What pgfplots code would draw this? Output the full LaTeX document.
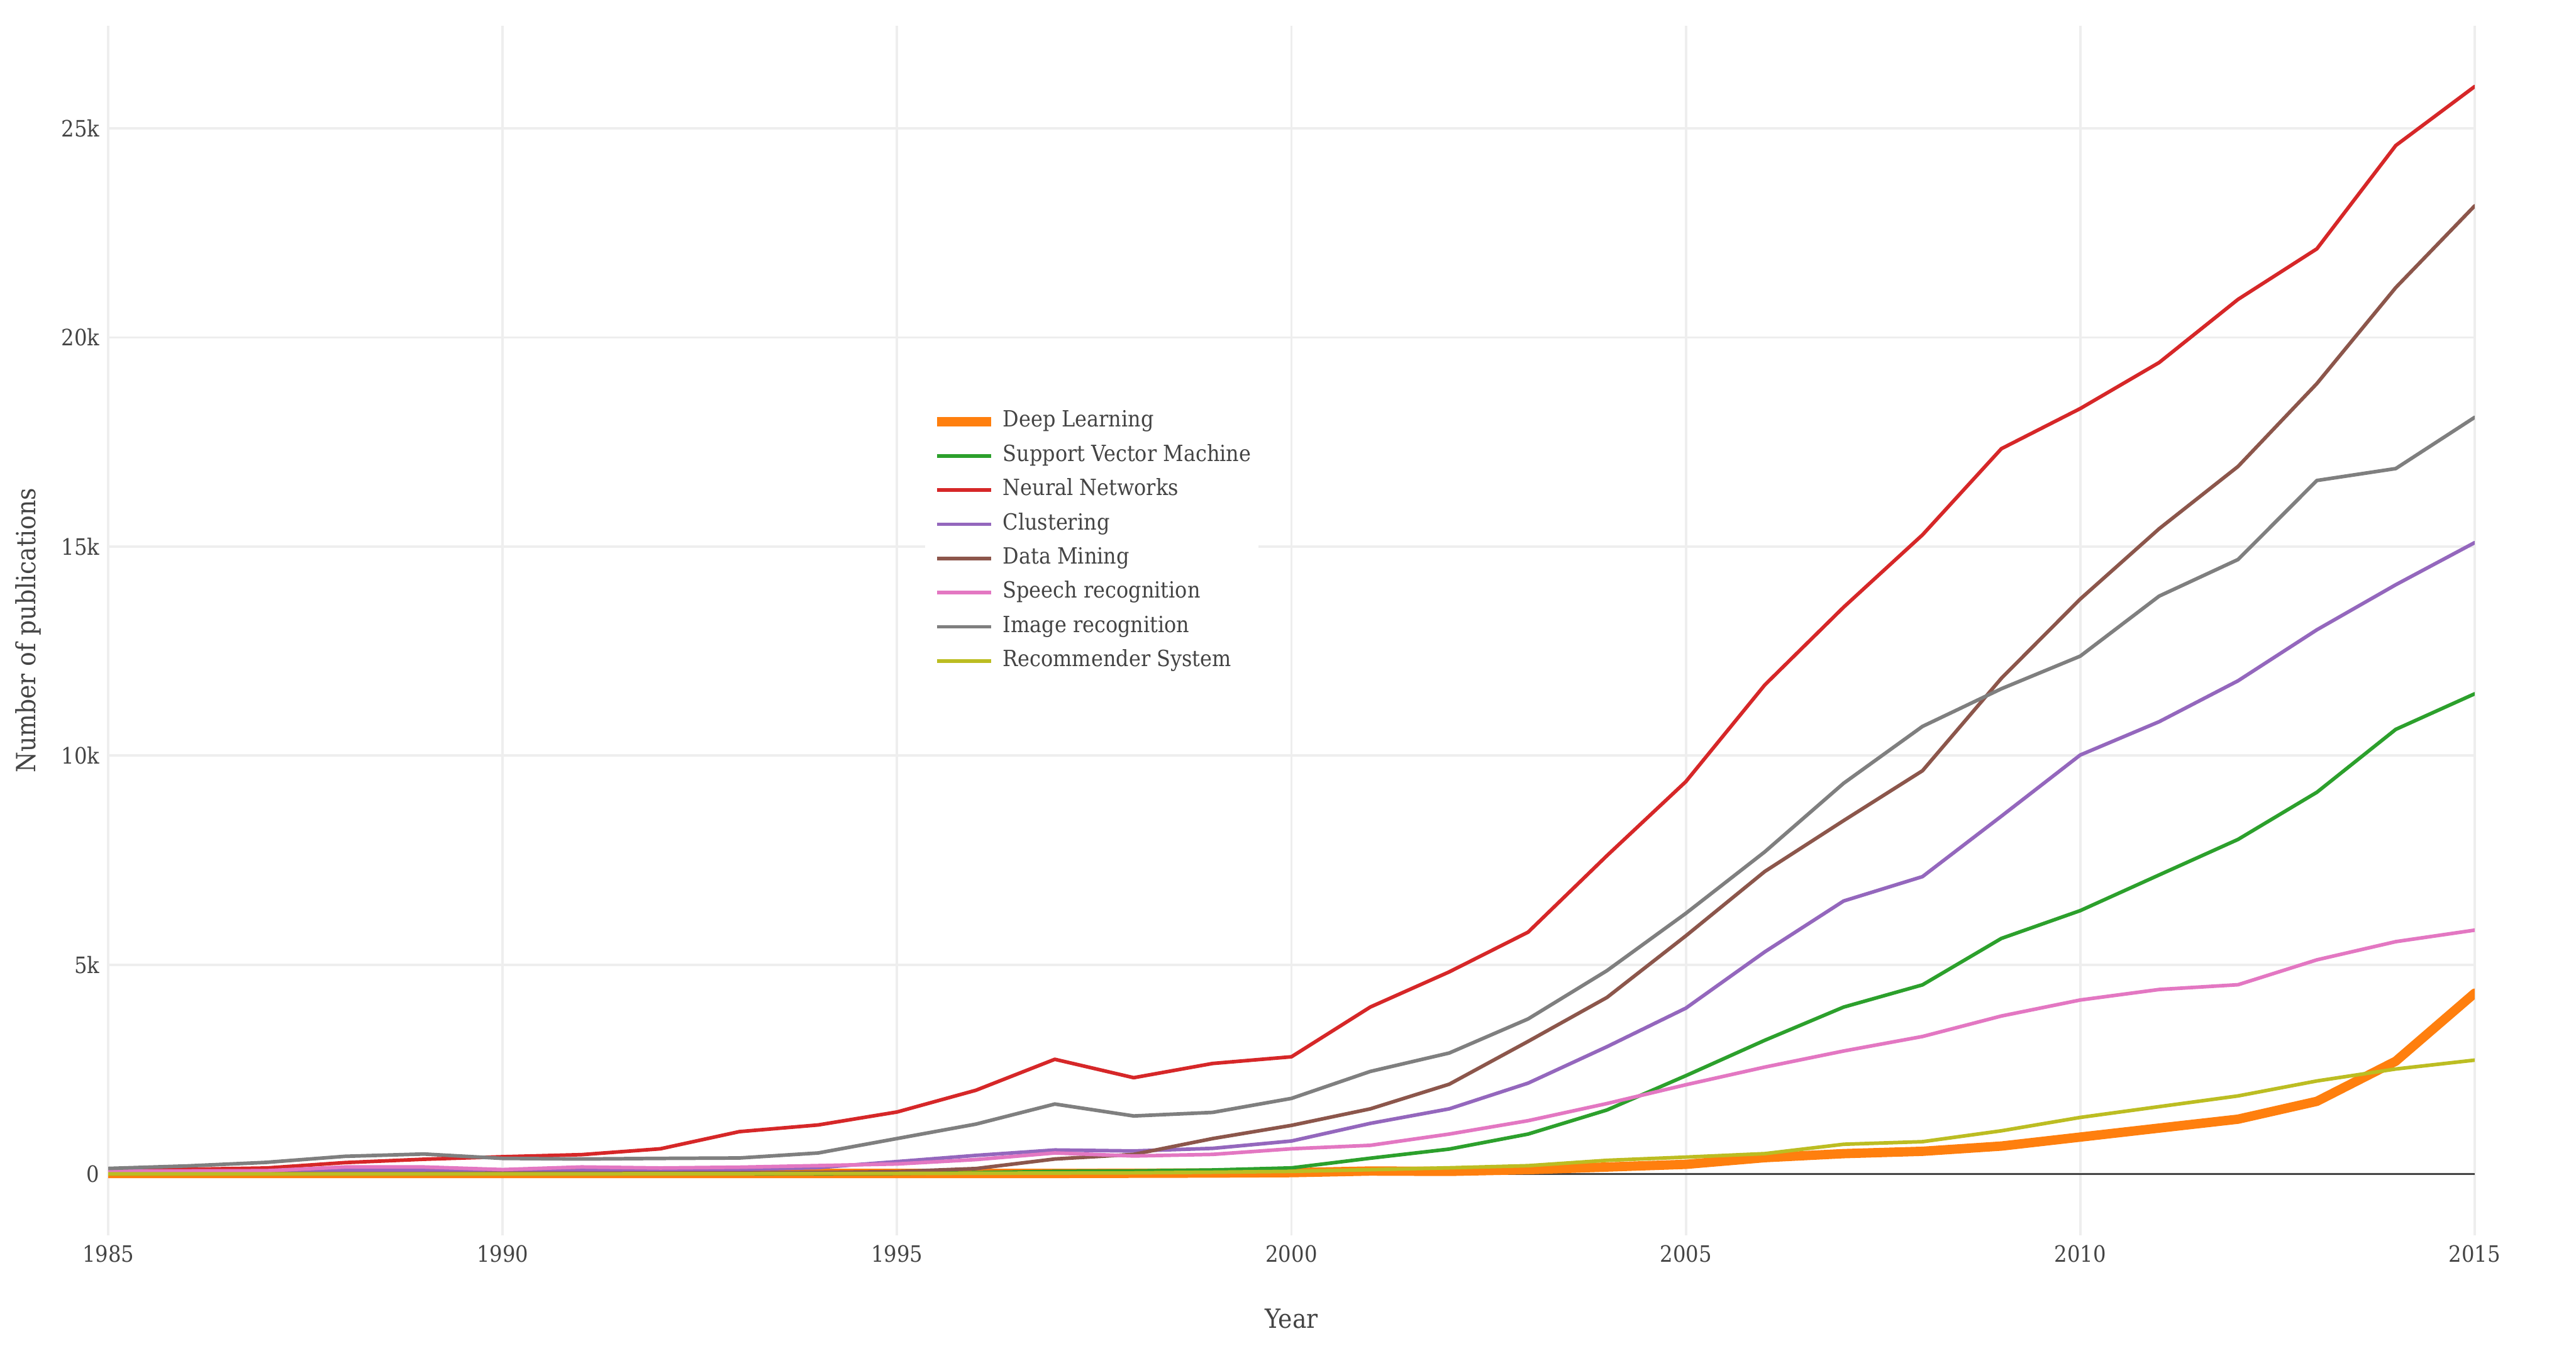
\documentclass[border=0pt]{standalone}
\usepackage{pgfplots}
\usepackage{pgfplotstable}
\pgfplotsset{compat=1.18}
\usepackage{fontspec}
\setmainfont{DejaVu Serif Condensed}

\definecolor{dlorange}{HTML}{FF7F0E}
\definecolor{svmgreen}{HTML}{2CA02C}
\definecolor{nnred}{HTML}{D62728}
\definecolor{clpurple}{HTML}{9467BD}
\definecolor{dmbrown}{HTML}{8C564B}
\definecolor{sppink}{HTML}{E377C2}
\definecolor{imgray}{HTML}{7F7F7F}
\definecolor{rsolive}{HTML}{BCBD22}
\definecolor{gridc}{HTML}{EEEEEE}
\definecolor{txt}{HTML}{444444}

% publications per year
\pgfplotstableread{
year  dl    svm    nn     cl     dm     sp    im     rs
1985  10    0      90     40     5      70    130    0
1986  10    0      110    50     5      70    190    0
1987  10    0      140    60     5      75    275    0
1988  10    0      270    80     10     165   420    0
1989  10    0      350    80     10     165   475    0
1990  10    0      410    50     15     103   370    0
1991  10    0      460    80     15     165   356    0
1992  10    0      600    80     20     141   370    5
1993  10    0      1010   103    25     160   380    5
1994  10    5      1170   150    35     198   500    10
1995  10    10     1480   294    55     237   845    10
1996  10    30     2000   442    127    342   1190   15
1997  10    60     2740   571    356    500   1670   20
1998  15    70     2300   548    466    428   1385   25
1999  20    93     2640   610    844    466   1470   40
2000  30    143    2800   786    1160   600   1805   60
2001  68    375    3990   1208   1555   683   2450   100
2002  60    593    4830   1555   2144   952   2890   145
2003  100   952    5780   2170   3168   1272  3705   196
2004  164   1528   7610   3041   4219   1682  4860   324
2005  228   2348   9380   3963   5692   2131  6230   401
2006  388   3194   11690  5308   7230   2553  7700   484
2007  484   3988   13550  6525   8447   2938  9340   708
2008  540   4520   15280  7108   9640   3285  10700  770
2009  665   5630   17340  8553   11850  3775  11600  1030
2010  880   6295   18300  10016  13745  4158  12380  1350
2011  1095  7148   19400  10812  15426  4409  13815  1608
2012  1308  7997   20910  11790  16915  4523  14690  1864
2013  1735  9125   22120  13010  18898  5118  16580  2222
2014  2695  10629  24590  14087  21193  5553  16865  2508
2015  4320  11479  26000  15094  23146  5828  18090  2720
}\pubs

\begin{document}
\begin{tikzpicture}
\begin{axis}[
    name=ax,
    scale only axis,
    width=986.1pt, height=504pt,
    xmin=1985, xmax=2015,
    ymin=-1471, ymax=27453,
    axis line style={draw=none},
    major tick length=0pt,
    xtick={1985,1990,...,2015},
    ytick={0,5000,10000,15000,20000,25000},
    yticklabels={0,5k,10k,15k,20k,25k},
    /pgf/number format/assume math mode=true,
    x tick label style={/pgf/number format/1000 sep=},
    xticklabel style={anchor=north, inner sep=0pt, yshift=-4pt, font=\fontsize{9.4pt}{10pt}\selectfont, text=txt},
    yticklabel style={anchor=east, inner sep=0pt, xshift=-3.4pt, font=\fontsize{9.4pt}{10pt}\selectfont, text=txt},
    grid=major,
    grid style={color=gridc, line width=1pt},
    every axis plot/.append style={line join=round, line cap=round},
    legend cell align=left,
    legend style={
        at={(rel axis cs:0.3450,0.6885)}, anchor=north west,
        draw=none, fill=white,
        font=\fontsize{9.3pt}{10pt}\selectfont, text=txt,
        inner xsep=3pt, inner ysep=3pt,
        row sep=4.75pt,
        nodes={inner sep=0pt, text height=7pt, text depth=2.5pt},
        /tikz/every odd column/.append style={column sep=3pt},
    },
    legend image code/.code={\draw[#1, line cap=butt] (0pt,0pt) -- (22.5pt,0pt);},
]
\addplot[draw=txt, line width=0.9pt, forget plot] coordinates {(1985,0) (2015,0)};
\addplot[dlorange, line width=3.9pt] table[x=year, y=dl] {\pubs};
\addlegendentry{Deep Learning}
\addplot[svmgreen, line width=1.5pt] table[x=year, y=svm] {\pubs};
\addlegendentry{Support Vector Machine}
\addplot[nnred, line width=1.5pt] table[x=year, y=nn] {\pubs};
\addlegendentry{Neural Networks}
\addplot[clpurple, line width=1.5pt] table[x=year, y=cl] {\pubs};
\addlegendentry{Clustering}
\addplot[dmbrown, line width=1.5pt] table[x=year, y=dm] {\pubs};
\addlegendentry{Data Mining}
\addplot[sppink, line width=1.5pt] table[x=year, y=sp] {\pubs};
\addlegendentry{Speech recognition}
\addplot[imgray, line width=1.5pt] table[x=year, y=im] {\pubs};
\addlegendentry{Image recognition}
\addplot[rsolive, line width=1.5pt] table[x=year, y=rs] {\pubs};
\addlegendentry{Recommender System}
\end{axis}
\node[anchor=base, font=\fontsize{11pt}{12pt}\selectfont, text=txt] at ([yshift=-38.75pt]ax.south) {Year};
\node[rotate=90, anchor=base, font=\fontsize{11pt}{12pt}\selectfont, text=txt] at ([xshift=-30.4pt]ax.west) {Number of publications};
\pgfresetboundingbox
\path[use as bounding box] ([shift={(-45.125pt,-51pt)}]ax.south west) rectangle ([shift={(42.25pt,10.75pt)}]ax.north east);
\end{tikzpicture}
\end{document}
